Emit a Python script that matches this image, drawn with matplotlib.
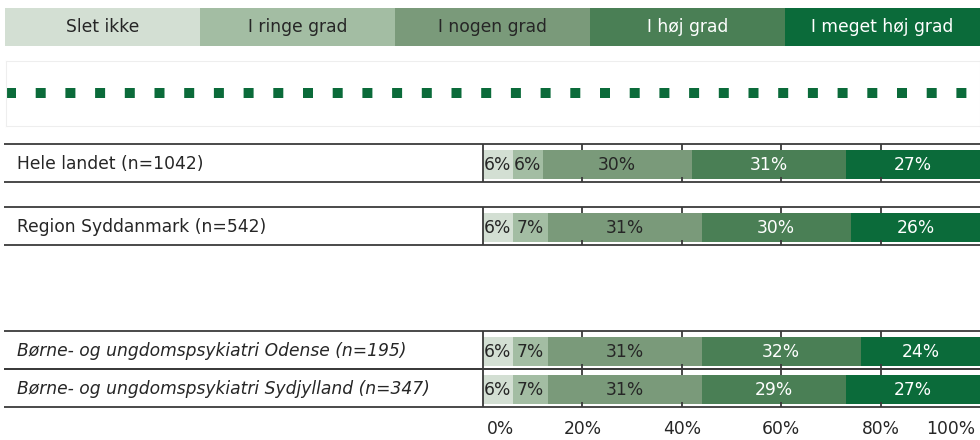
import matplotlib
matplotlib.use("Agg")
import matplotlib.pyplot as plt
import matplotlib.transforms as mtransforms
import numpy as np

# ---- data ----
categories = ["Slet ikke", "I ringe grad", "I nogen grad", "I høj grad", "I meget høj grad"]
row_labels = ["Hele landet (n=1042)", "Region Syddanmark (n=542)",
              "Børne- og ungdomspsykiatri Odense (n=195)",
              "Børne- og ungdomspsykiatri Sydjylland (n=347)"]
row_italic = [False, False, True, True]
slet_ikke = [6, 6, 6, 6]
ringe = [6, 7, 7, 7]
nogen = [30, 31, 31, 31]
hoej = [31, 30, 32, 29]
meget_hoej = [27, 26, 24, 27]
tick_values = [0, 20, 40, 60, 80, 100]
tick_labels = ["0%", "20%", "40%", "60%", "80%", "100%"]

# ---- styles ----
colors = ["#d3dfd3", "#a3bda3", "#7a9a7a", "#4a7f55", "#0b6b3a"]
text_colors = ["#262626", "#262626", "#262626", "white", "white"]
line_col = "#3a3a3a"
FS = 12.3
W, H = 980, 440

plt.rcParams['font.family'] = ['DejaVu Sans']
fig = plt.figure(figsize=(W / 100, H / 100), dpi=100)

def fig_rect(x0, y0, x1, y1):
    return [x0 / W, 1 - y1 / H, (x1 - x0) / W, (y1 - y0) / H]

# ---- legend strip ----
axl = fig.add_axes(fig_rect(5, 8, 980, 46))
for i, (c, tc, lab) in enumerate(zip(categories, text_colors, categories)):
    axl.barh(0, 1, left=i, height=1, color=colors[i], edgecolor='none')
    axl.text(i + 0.5, 0, lab, ha='center', va='center', color=tc, fontsize=FS)
axl.set_xlim(0, len(categories))
axl.set_ylim(-0.5, 0.5)
axl.axis('off')

# ---- dotted separator ----
axd = fig.add_axes(fig_rect(6, 61, 980, 126))
axd.set_xlim(0, 1)
axd.set_ylim(0, 1)
ln = axd.axhline(0.5, xmin=0, xmax=1, color="#0b6b3a", linewidth=7.2,
                 solid_capstyle='butt', dash_capstyle='butt')
ln.set_dashes((1, 1.97))
axd.set_xticks([])
axd.set_yticks([])
for s in axd.spines.values():
    s.set_color("#eeeeee")
    s.set_linewidth(0.8)

# ---- main bars ----
AX_L, AX_R = 4, 980
X0_PX, X100_PX = 483, 980
xmin = -(X0_PX - AX_L) / (X100_PX - X0_PX) * 100
ax = fig.add_axes(fig_rect(AX_L, 135, AX_R, 412))
ax.set_xlim(xmin, 100)
ax.set_ylim(412, 135)

ycent = [164.5, 227.5, 351.5, 389.5]
bar_h = 29
series = [slet_ikke, ringe, nogen, hoej, meget_hoej]
left = np.zeros(len(row_labels))
for k, vals in enumerate(series):
    vals = np.array(vals, dtype=float)
    ax.barh(ycent, vals, left=left, height=bar_h, color=colors[k], edgecolor='none')
    for yc, l, v in zip(ycent, left, vals):
        ax.text(l + v / 2, yc + 0.5, f"{int(v)}%", ha='center', va='center',
                color=text_colors[k], fontsize=FS)
    left += vals

def px2x(px):
    return (px - X0_PX) / (X100_PX - X0_PX) * 100

for yc, lab, it in zip(ycent, row_labels, row_italic):
    top, bot = yc - 20.5, yc + 17.5
    ax.hlines([top, bot], xmin, 100, color=line_col, linewidth=1.3)
    ax.vlines([20, 40, 60, 80], top, top + 6, color=line_col, linewidth=1.3)
    ax.vlines([20, 40, 60, 80], bot - 5, bot, color=line_col, linewidth=1.3)
    ax.vlines([0], top, bot, color=line_col, linewidth=1.3)
    ax.text(px2x(17), yc - 1, lab, ha='left', va='center', fontsize=FS,
            color="#262626", style='italic' if it else 'normal')

ax.set_xticks(tick_values)
ax.set_xticklabels(tick_labels, fontsize=FS, color="#262626")
ax.tick_params(axis='x', length=0, pad=6)
ticks = ax.xaxis.get_major_ticks()
ticks[0].label1.set_horizontalalignment('left')
ticks[0].label1.set_transform(ticks[0].label1.get_transform() +
                              mtransforms.ScaledTranslation(4 / 100, 0, fig.dpi_scale_trans))
ticks[-1].label1.set_horizontalalignment('right')
ticks[-1].label1.set_transform(ticks[-1].label1.get_transform() +
                               mtransforms.ScaledTranslation(-5 / 100, 0, fig.dpi_scale_trans))
ax.set_yticks([])
for s in ax.spines.values():
    s.set_visible(False)

fig.savefig("out.png", dpi=100)
